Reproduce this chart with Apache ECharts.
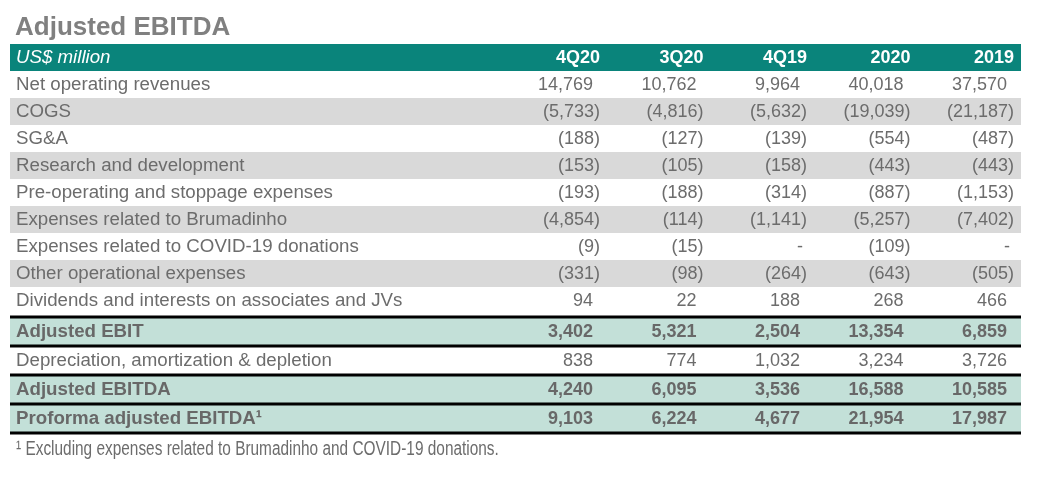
<!DOCTYPE html>
<html>
<head>
<meta charset="utf-8">
<script src="https://cdn.jsdelivr.net/npm/echarts@6/dist/echarts.min.js"></script>
<style>
html,body{margin:0;padding:0;background:#fff;}
#chart{width:1046px;height:478px;}
</style>
</head>
<body>
<div id="chart"></div>
<script>
// ---- data ----
const titleText = 'Adjusted EBITDA';
const unitLabel = 'US$ million';
const periods = ['4Q20', '3Q20', '4Q19', '2020', '2019'];
const rowNames = [
  'Net operating revenues',
  'COGS',
  'SG&A',
  'Research and development',
  'Pre-operating and stoppage expenses',
  'Expenses related to Brumadinho',
  'Expenses related to COVID-19 donations',
  'Other operational expenses',
  'Dividends and interests on associates and JVs'
];
const netRevenues = [14769, 10762, 9964, 40018, 37570];
const cogs = [-5733, -4816, -5632, -19039, -21187];
const sga = [-188, -127, -139, -554, -487];
const rnd = [-153, -105, -158, -443, -443];
const preOperating = [-193, -188, -314, -887, -1153];
const brumadinho = [-4854, -114, -1141, -5257, -7402];
const covid = [-9, -15, null, -109, null];
const otherOps = [-331, -98, -264, -643, -505];
const dividends = [94, 22, 188, 268, 466];
const rowValues = [netRevenues, cogs, sga, rnd, preOperating, brumadinho, covid, otherOps, dividends];

const summaryNames = ['Adjusted EBIT', 'Depreciation, amortization & depletion', 'Adjusted EBITDA', 'Proforma adjusted EBITDA\u00B9'];
const adjustedEbit = [3402, 5321, 2504, 13354, 6859];
const depreciation = [838, 774, 1032, 3234, 3726];
const adjustedEbitda = [4240, 6095, 3536, 16588, 10585];
const proformaEbitda = [9103, 6224, 4677, 21954, 17987];
const summaryValues = [adjustedEbit, depreciation, adjustedEbitda, proformaEbitda];
const summaryBold = [true, false, true, true];
const footnote = '\u00B9 Excluding expenses related to Brumadinho and COVID-19 donations.';

// ---- styles ----
const FONT = '"Liberation Sans", Arial, sans-serif';
const TEAL = '#0a847b';
const GRAY_BAND = '#d9d9d9';
const GREEN_BAND = '#c3e0d8';
const TEXT = '#6c6c6c';
const BOLD_TEXT = '#686868';

function fmt(v) {
  if (v === null || v === undefined) return '-';
  const s = Math.abs(v).toLocaleString('en-US');
  return v < 0 ? '(' + s + ')' : s;
}

const upperCats = [unitLabel].concat(rowNames);
const lowerCats = summaryNames.slice();

const upperLabelData = upperCats.map((n, i) => [0, i]);
const lowerLabelData = lowerCats.map((n, i) => [0, i]);

const upperCells = [];
periods.forEach((p, c) => upperCells.push({ c: c, r: 0, text: p, kind: 'header' }));
rowValues.forEach((vals, r) => vals.forEach((v, c) =>
  upperCells.push({ c: c, r: r + 1, text: fmt(v), kind: v === null ? 'dash' : (v < 0 ? 'paren' : 'plain') })));
const lowerCells = [];
summaryValues.forEach((vals, r) => vals.forEach((v, c) =>
  lowerCells.push({ c: c, r: r, text: fmt(v), kind: 'plain', bold: summaryBold[r] })));

function padFor(kind) {
  if (kind === 'header' || kind === 'paren') return 7;
  if (kind === 'dash') return 11;
  return 14;
}

function upperLabelRender(params, api) {
  const r = api.value(1);
  const p = api.coord([0, r]);
  const w = api.size([1, 0])[0];
  const h = api.size([0, 1])[1];
  const top = p[1] - h / 2;
  const children = [];
  let fill = null;
  if (r === 0) fill = TEAL;
  else if (r % 2 === 0) fill = GRAY_BAND;
  if (fill) children.push({ type: 'rect', shape: { x: p[0], y: top, width: w, height: h }, style: { fill: fill } });
  children.push({
    type: 'text', x: p[0] + 6, y: p[1] + 0.5,
    style: {
      text: upperCats[r], fill: r === 0 ? '#ffffff' : TEXT,
      font: (r === 0 ? 'italic ' : '') + '18.7px ' + FONT,
      verticalAlign: 'middle', align: 'left'
    }
  });
  return { type: 'group', children: children };
}

function lowerLabelRender(params, api) {
  const r = api.value(1);
  const p = api.coord([0, r]);
  const w = api.size([1, 0])[0];
  const h = api.size([0, 1])[1];
  const top = p[1] - h / 2;
  const children = [];
  if (summaryBold[r]) children.push({ type: 'rect', shape: { x: p[0], y: top, width: w, height: h }, style: { fill: GREEN_BAND } });
  children.push({ type: 'rect', shape: { x: p[0], y: top - 1.5, width: w, height: 3 }, style: { fill: '#000' } });
  if (r === lowerCats.length - 1) {
    children.push({ type: 'rect', shape: { x: p[0], y: top + h - 1.5, width: w, height: 3 }, style: { fill: '#000' } });
  }
  children.push({
    type: 'text', x: p[0] + 6, y: p[1] + 0.5,
    style: {
      text: lowerCats[r], fill: summaryBold[r] ? BOLD_TEXT : TEXT,
      font: (summaryBold[r] ? 'bold ' : '') + '18.7px ' + FONT,
      verticalAlign: 'middle', align: 'left'
    }
  });
  return { type: 'group', children: children };
}

function cellRender(cells) {
  return function (params, api) {
    const cell = cells[params.dataIndex];
    const p = api.coord([api.value(0), api.value(1)]);
    const bw = api.size([1, 0])[0];
    const right = p[0] + bw / 2 - padFor(cell.kind);
    const isHeader = cell.kind === 'header';
    return {
      type: 'text', x: right, y: p[1] + 0.5,
      style: {
        text: cell.text,
        fill: isHeader ? '#ffffff' : (cell.bold ? BOLD_TEXT : TEXT),
        font: ((isHeader || cell.bold) ? 'bold ' : '') + '18px ' + FONT,
        align: 'right', verticalAlign: 'middle'
      }
    };
  };
}

const hiddenAxis = { show: false };
const chart = echarts.init(document.getElementById('chart'), null, { renderer: 'canvas' });
chart.setOption({
  animation: false,
  backgroundColor: '#ffffff',
  title: {
    text: titleText, left: 15, top: 15, padding: 0,
    textStyle: { fontFamily: FONT, fontSize: 26, fontWeight: 'bold', color: '#808080', lineHeight: 26 }
  },
  grid: [
    { left: 10, right: 25, top: 44, height: 270 },
    { left: 503.5, right: 25, top: 44, height: 270 },
    { left: 10, right: 25, top: 317, height: 116 },
    { left: 503.5, right: 25, top: 317, height: 116 }
  ],
  xAxis: [
    Object.assign({ type: 'value', min: 0, max: 1, gridIndex: 0 }, hiddenAxis),
    Object.assign({ type: 'category', data: periods, gridIndex: 1 }, hiddenAxis),
    Object.assign({ type: 'value', min: 0, max: 1, gridIndex: 2 }, hiddenAxis),
    Object.assign({ type: 'category', data: periods, gridIndex: 3 }, hiddenAxis)
  ],
  yAxis: [
    Object.assign({ type: 'category', data: upperCats, inverse: true, gridIndex: 0 }, hiddenAxis),
    Object.assign({ type: 'category', data: upperCats, inverse: true, gridIndex: 1 }, hiddenAxis),
    Object.assign({ type: 'category', data: lowerCats, inverse: true, gridIndex: 2 }, hiddenAxis),
    Object.assign({ type: 'category', data: lowerCats, inverse: true, gridIndex: 3 }, hiddenAxis)
  ],
  graphic: [{
    type: 'text', x: 16, y: 449, scaleX: 0.77, originX: 0,
    style: { text: footnote, font: '20px ' + FONT, fill: TEXT, verticalAlign: 'middle' }
  }],
  series: [
    { type: 'custom', xAxisIndex: 0, yAxisIndex: 0, data: upperLabelData, renderItem: upperLabelRender, silent: true, z: 1 },
    { type: 'custom', xAxisIndex: 1, yAxisIndex: 1, data: upperCells.map(c => [c.c, c.r]), renderItem: cellRender(upperCells), silent: true, z: 2 },
    { type: 'custom', xAxisIndex: 2, yAxisIndex: 2, data: lowerLabelData, renderItem: lowerLabelRender, silent: true, z: 1 },
    { type: 'custom', xAxisIndex: 3, yAxisIndex: 3, data: lowerCells.map(c => [c.c, c.r]), renderItem: cellRender(lowerCells), silent: true, z: 2 }
  ]
});
</script>
</body>
</html>
